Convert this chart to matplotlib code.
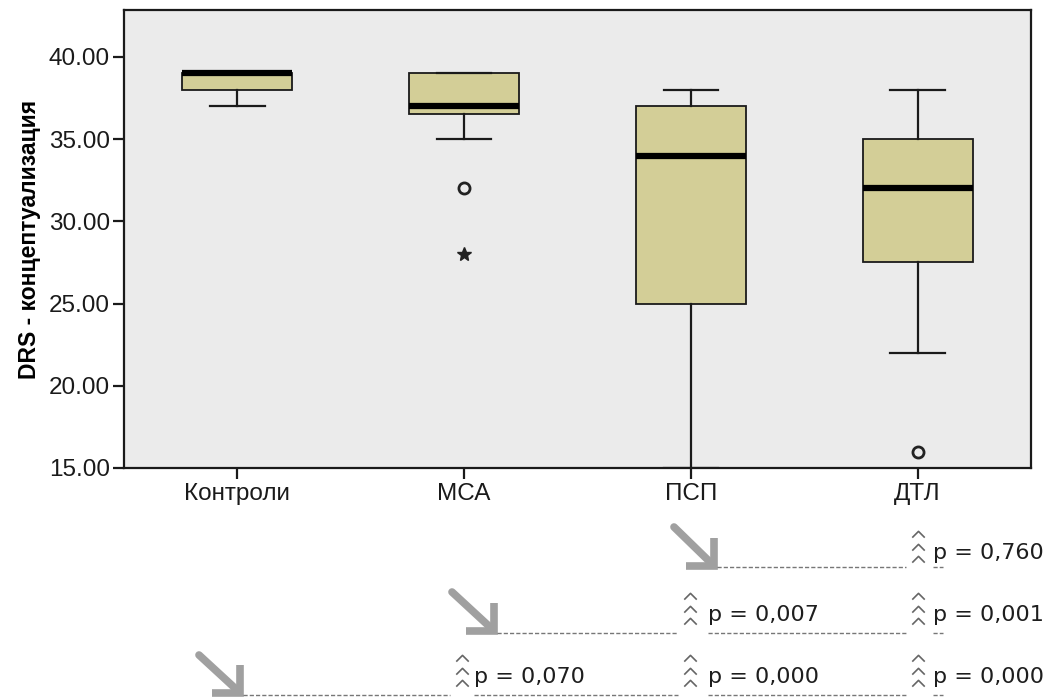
import matplotlib
matplotlib.use("Agg")
import matplotlib.pyplot as plt
from matplotlib.path import Path
from matplotlib.ticker import FormatStrFormatter

# Group summaries of the DRS conceptualisation score
groups = ["Контроли", "МСА", "ПСП", "ДТЛ"]
whisker_low = [37.0, 35.0, 15.0, 22.0]
q1 = [38.0, 36.5, 25.0, 27.5]
median = [39.0, 37.0, 34.0, 32.0]
q3 = [39.0, 39.0, 37.0, 35.0]
whisker_high = [39.0, 39.0, 38.0, 38.0]
outliers = [[], [32.0], [], [16.0]]
extremes = [[], [28.0], [], []]

y_ticks = [15, 20, 25, 30, 35, 40]

# Pairwise comparisons shown under the chart (row -> p-values, left to right)
pair_rows = [
    ["p = 0,760"],
    ["p = 0,007", "p = 0,001"],
    ["p = 0,070", "p = 0,000", "p = 0,000"],
]

BOX_FILL = "#d3ce97"
PANEL_BG = "#ebebeb"
ARROW_GREY = "#a0a0a0"

W, H = 1049, 700
fig = plt.figure(figsize=(W / 100, H / 100), dpi=100)
fig.patch.set_facecolor("white")
ax = fig.add_axes([124 / W, 1 - 468 / H, (1031 - 124) / W, (468 - 10) / H])
ax.set_facecolor(PANEL_BG)

stats = []
for i, g in enumerate(groups):
    stats.append(dict(label=g, whislo=whisker_low[i], q1=q1[i], med=median[i],
                      q3=q3[i], whishi=whisker_high[i], fliers=outliers[i]))

positions = list(range(1, len(groups) + 1))
ax.bxp(stats, positions=positions, widths=0.485, patch_artist=True,
       showfliers=True,
       boxprops=dict(facecolor=BOX_FILL, edgecolor="#1a1a1a", linewidth=1.3),
       medianprops=dict(color="black", linewidth=4.5, solid_capstyle="butt"),
       whiskerprops=dict(color="#1a1a1a", linewidth=1.6),
       capprops=dict(color="#1a1a1a", linewidth=1.6),
       capwidths=0.24,
       flierprops=dict(marker="o", markerfacecolor="none", markeredgecolor="#222222",
                       markersize=8, markeredgewidth=2.0, linestyle="none"))

for pos, ext in zip(positions, extremes):
    if ext:
        ax.plot([pos] * len(ext), ext, linestyle="none", marker="*",
                color="#222222", markersize=10)

ax.set_xlim(0.5, 4.5)
ax.set_ylim(15, 42.85)
ax.set_yticks(y_ticks)
ax.yaxis.set_major_formatter(FormatStrFormatter("%.2f"))
ax.set_xticks(positions)
ax.set_xticklabels(groups)

for lab in ax.get_xticklabels() + ax.get_yticklabels():
    lab.set_fontfamily(["Liberation Sans", "DejaVu Sans"])
    lab.set_fontsize(17.5)
    lab.set_color("#1a1a1a")
ax.tick_params(axis="both", direction="out", length=8, width=1.6, color="#1a1a1a")
ax.tick_params(axis="y", pad=2)
ax.tick_params(axis="x", pad=3)
for sp in ax.spines.values():
    sp.set_linewidth(1.6)
    sp.set_color("#1a1a1a")

ax.set_ylabel("DRS - концептуализация", fontsize=16.5, fontweight="bold",
              family=["Liberation Sans Narrow", "Liberation Sans", "DejaVu Sans"],
              labelpad=6)

# Annotation layer in pixel coordinates below the chart
ov = fig.add_axes([0, 0, 1, 1], facecolor="none")
ov.set_xlim(0, W)
ov.set_ylim(H, 0)
ov.axis("off")

chevron = Path([(-1, -0.5), (0, 0.5), (1, -0.5)],
               [Path.MOVETO, Path.LINETO, Path.LINETO])

arrow_starts = [(674, 527), (452, 592), (199, 655)]
arrow_tips = [(714, 566), (494, 631), (240, 693)]
caret_cols = [462, 690, 918]
text_cols = [474, 708, 933]
row_y = [553, 615, 677]
line_y = [567, 633, 695]
HEAD = 28


def draw_arrow(start, tip):
    (sx, sy), (tx, ty) = start, tip
    ov.plot([sx, tx - 3], [sy, ty - 3], color=ARROW_GREY, lw=5.5,
            solid_capstyle="round")
    ov.plot([tx - HEAD, tx, tx], [ty, ty, ty - HEAD], color=ARROW_GREY, lw=5.5,
            solid_joinstyle="miter", solid_capstyle="butt")


for r, pvals in enumerate(pair_rows):
    draw_arrow(arrow_starts[r], arrow_tips[r])
    tx, _ = arrow_tips[r]
    n = len(pvals)
    cols = list(range(3 - n, 3))
    ly = line_y[r]
    x0 = tx + 3
    for k, c in enumerate(cols):
        cx = caret_cols[c]
        ov.plot([x0, cx - 12], [ly, ly], color="#777777", lw=1.0,
                linestyle=(0, (3, 1.5)))
        for dy in (-19, -6, 6):
            ov.plot([cx], [row_y[r] + dy], marker=chevron, markersize=9,
                    markerfacecolor="none", markeredgecolor="#666666",
                    markeredgewidth=1.2, linestyle="none")
        ov.text(text_cols[c], row_y[r], pvals[k], fontsize=16,
                family=["DejaVu Sans"], color="#1e1e1e", va="center", ha="left")
        x0 = text_cols[c]
    ov.plot([x0, x0 + 10], [ly, ly], color="#777777", lw=1.0,
            linestyle=(0, (3, 1.5)))

fig.savefig("out.png", dpi=100, facecolor="white")
